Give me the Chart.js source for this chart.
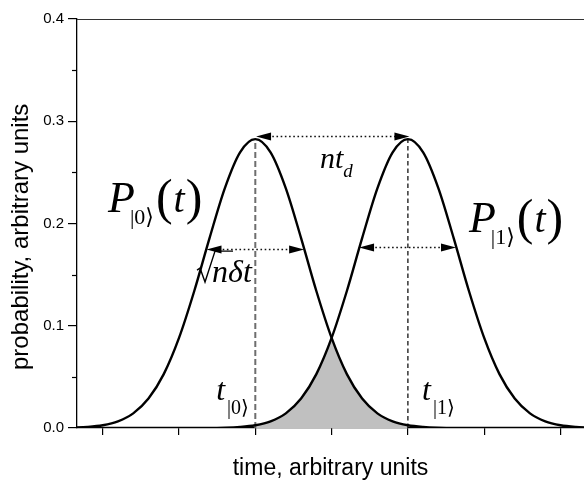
<!DOCTYPE html>
<html>
<head>
<meta charset="utf-8">
<title>Overlapping detection probabilities</title>
<script src="https://cdn.jsdelivr.net/npm/chart.js@4.4.1/dist/chart.umd.min.js"></script>
<style>
    html, body { margin: 0; padding: 0; background: #fff; }
    #wrap { width: 584px; height: 487px; }
</style>
</head>
<body>
<div id="wrap"><canvas id="chart"></canvas></div>
<script>
// time axis (arbitrary units), one sample every 0.2
const timePoints = [0.6, 0.8, 1.0, 1.2, 1.4, 1.6, 1.8, 2.0, 2.2, 2.4,
                    2.6, 2.8, 3.0, 3.2, 3.4, 3.6, 3.8, 4.0, 4.2, 4.4,
                    4.6, 4.8, 5.0, 5.2, 5.4, 5.6, 5.8, 6.0, 6.2, 6.4,
                    6.6, 6.8, 7.0, 7.2, 7.4];

// P|0>(t)
const probState0 = [0.0003, 0.0010, 0.0027, 0.0065, 0.0143, 0.0288, 0.0527, 0.0881, 0.1340, 0.1857,
                    0.2344, 0.2696, 0.2825, 0.2696, 0.2344, 0.1857, 0.1340, 0.0881, 0.0527, 0.0288,
                    0.0143, 0.0065, 0.0027, 0.0010, 0.0003, 0.0001, 0, 0, 0, 0,
                    0, 0, 0, 0, 0];

// P|1>(t)
const probState1 = [0, 0, 0, 0, 0, 0, 0, 0, 0, 0.0001,
                    0.0003, 0.0010, 0.0027, 0.0065, 0.0143, 0.0288, 0.0527, 0.0881, 0.1340, 0.1857,
                    0.2344, 0.2696, 0.2825, 0.2696, 0.2344, 0.1857, 0.1340, 0.0881, 0.0527, 0.0288,
                    0.0143, 0.0065, 0.0027, 0.0010, 0.0003];

const peakTimes = [3.0, 5.0];      // t|0>, t|1>
const peakValue = 0.2825;
const crossingTime = 4.0;
const crossingValue = 0.0881;

const yMinorTicks = [0.05, 0.15, 0.25, 0.35];

// dotted double arrows: [from, to, level]
const arrowSpans = [
    [3.01, 5.02, 0.2857],   // n t_d
    [2.36, 3.64, 0.175],    // sqrt(n) dt
    [4.36, 5.63, 0.177]
];

const serif = "'Liberation Serif', 'DejaVu Serif', serif";
const sans = "'Liberation Sans', Arial, sans-serif";

// math labels, anchored in data coordinates; runs are drawn one after another
const mathLabels = [
    { x: 1.07, y: 0.2111, runs: [
        { text: 'P', size: 44, italic: true },
        { text: '|0\u27E9', size: 22, dx: -5, dy: 12 },
        { text: '(', size: 50, dx: 2, dy: 2 },
        { text: 't', size: 40, italic: true, dx: 1 },
        { text: ')', size: 50, dx: 1, dy: 2 } ] },
    { x: 5.80, y: 0.1916, runs: [
        { text: 'P', size: 44, italic: true },
        { text: '|1\u27E9', size: 22, dx: -5, dy: 12 },
        { text: '(', size: 50, dx: 2, dy: 2 },
        { text: 't', size: 40, italic: true, dx: 1 },
        { text: ')', size: 50, dx: 1, dy: 2 } ] },
    { x: 3.847, y: 0.2542, runs: [
        { text: 'nt', size: 30, italic: true },
        { text: 'd', size: 19, italic: true, dy: 9 } ] },
    { x: 2.236, y: 0.1427, radical: true, runs: [
        { text: 'n\u03B4t', size: 32, italic: true, dx: 15 } ] },
    { x: 2.487, y: 0.0274, runs: [
        { text: 't', size: 32, italic: true },
        { text: '|0\u27E9', size: 20, dx: 2, dy: 14 } ] },
    { x: 5.185, y: 0.0274, runs: [
        { text: 't', size: 32, italic: true },
        { text: '|1\u27E9', size: 20, dx: 2, dy: 14 } ] }
];

function points(values) {
    return timePoints.map((t, i) => ({ x: t, y: values[i] }));
}

function between(values, from, to) {
    return points(values).filter(p => p.x >= from - 1e-9 && p.x <= to + 1e-9);
}

const annotate = {
    id: 'annotate',
    beforeDatasetsDraw(chart) {
        const { ctx, chartArea } = chart;
        const y = chart.scales.y;
        ctx.save();
        // frame line on top
        ctx.strokeStyle = '#333';
        ctx.lineWidth = 1;
        ctx.beginPath();
        ctx.moveTo(chartArea.left, chartArea.top + 0.5);
        ctx.lineTo(chartArea.right, chartArea.top + 0.5);
        ctx.stroke();
        // minor ticks on the y axis
        ctx.strokeStyle = '#000';
        ctx.lineWidth = 1.2;
        yMinorTicks.forEach(v => {
            const py = Math.round(y.getPixelForValue(v)) + 0.5;
            ctx.beginPath();
            ctx.moveTo(chartArea.left - 5, py);
            ctx.lineTo(chartArea.left, py);
            ctx.stroke();
        });
        ctx.restore();
    },
    afterDatasetsDraw(chart) {
        const { ctx } = chart;
        const x = chart.scales.x, y = chart.scales.y;
        ctx.save();

        function head(tipX, py, dir) {
            ctx.beginPath();
            ctx.moveTo(tipX, py);
            ctx.lineTo(tipX + dir * 15, py - 4);
            ctx.lineTo(tipX + dir * 15, py + 4);
            ctx.closePath();
            ctx.fill();
        }

        ctx.fillStyle = '#000';
        ctx.strokeStyle = '#111';
        arrowSpans.forEach(([x1, x2, v]) => {
            const p1 = x.getPixelForValue(x1);
            const p2 = x.getPixelForValue(x2);
            const py = Math.round(y.getPixelForValue(v)) + 0.5;
            ctx.setLineDash([1.6, 2.6]);
            ctx.lineWidth = 1.3;
            ctx.beginPath();
            ctx.moveTo(p1 + 12, py);
            ctx.lineTo(p2 - 12, py);
            ctx.stroke();
            ctx.setLineDash([]);
            head(p1, py, 1);
            head(p2, py, -1);
        });

        ctx.textBaseline = 'alphabetic';
        ctx.textAlign = 'left';
        mathLabels.forEach(lab => {
            let cx = x.getPixelForValue(lab.x);
            const cy = y.getPixelForValue(lab.y);
            if (lab.radical) {
                ctx.lineWidth = 1.4;
                ctx.strokeStyle = '#000';
                ctx.beginPath();
                ctx.moveTo(cx, cy - 12);
                ctx.lineTo(cx + 3, cy - 14);
                ctx.lineTo(cx + 8, cy);
                ctx.lineTo(cx + 18, cy - 31);
                ctx.lineTo(cx + 36, cy - 31);
                ctx.stroke();
            }
            lab.runs.forEach(r => {
                ctx.font = (r.italic ? 'italic ' : '') + r.size + 'px ' + serif;
                cx += r.dx || 0;
                ctx.fillText(r.text, cx, cy + (r.dy || 0));
                cx += ctx.measureText(r.text).width;
            });
        });
        ctx.restore();
    }
};

document.addEventListener('DOMContentLoaded', () => {
    const ctx = document.getElementById('chart').getContext('2d');

    new Chart(ctx, {
        type: 'line',
        data: {
            datasets: [
                {
                    label: 'overlap left',
                    data: between(probState1, peakTimes[0], crossingTime),
                    borderWidth: 0,
                    backgroundColor: '#c0c0c0',
                    fill: 'origin',
                    cubicInterpolationMode: 'monotone',
                    order: 5
                },
                {
                    label: 'overlap right',
                    data: between(probState0, crossingTime, peakTimes[1]),
                    borderWidth: 0,
                    backgroundColor: '#c0c0c0',
                    fill: 'origin',
                    cubicInterpolationMode: 'monotone',
                    order: 5
                },
                {
                    // hides the hairline where the two shaded halves meet
                    label: 'overlap seam',
                    data: [{ x: crossingTime, y: 0 }, { x: crossingTime, y: crossingValue - 0.002 }],
                    borderColor: '#c0c0c0',
                    borderWidth: 1.5,
                    fill: false,
                    order: 4
                },
                {
                    label: 't0 marker',
                    data: [{ x: peakTimes[0], y: 0 }, { x: peakTimes[0], y: peakValue }],
                    borderColor: '#6e6e6e',
                    borderWidth: 2,
                    borderDash: [6, 3],
                    fill: false,
                    order: 3
                },
                {
                    label: 't1 marker',
                    data: [{ x: peakTimes[1], y: 0 }, { x: peakTimes[1], y: peakValue }],
                    borderColor: '#000',
                    borderWidth: 1.2,
                    borderDash: [4.5, 3],
                    fill: false,
                    order: 3
                },
                {
                    label: 'P|0>(t)',
                    data: points(probState0),
                    borderColor: '#000',
                    borderWidth: 2.4,
                    fill: false,
                    cubicInterpolationMode: 'monotone',
                    order: 1
                },
                {
                    label: 'P|1>(t)',
                    data: points(probState1),
                    borderColor: '#000',
                    borderWidth: 2.4,
                    fill: false,
                    cubicInterpolationMode: 'monotone',
                    order: 1
                }
            ]
        },
        options: {
            responsive: true,
            maintainAspectRatio: false,
            animation: false,
            layout: { padding: { top: 19, right: 0, bottom: 0, left: 0 } },
            elements: { point: { radius: 0, hoverRadius: 0 } },
            plugins: {
                legend: { display: false },
                tooltip: { enabled: false }
            },
            scales: {
                x: {
                    type: 'linear',
                    min: 0.663,
                    max: 7.308,
                    afterFit: s => { s.height = 59; },
                    ticks: { display: false, stepSize: 1, includeBounds: false },
                    grid: { drawOnChartArea: false, tickLength: 7, color: '#000', lineWidth: 1.2 },
                    border: { color: '#000', width: 1.3 },
                    title: {
                        display: true,
                        text: 'time, arbitrary units',
                        color: '#000',
                        font: { family: sans, size: 23 },
                        padding: { top: 0, bottom: 5 }
                    }
                },
                y: {
                    min: 0,
                    max: 0.4,
                    afterFit: s => { s.width = 77; },
                    ticks: {
                        stepSize: 0.1,
                        padding: 4,
                        color: '#000',
                        font: { family: sans, size: 15 },
                        callback: v => v.toFixed(1)
                    },
                    grid: { drawOnChartArea: false, tickLength: 9, color: '#000', lineWidth: 1.2 },
                    border: { color: '#000', width: 1.3 },
                    title: {
                        display: true,
                        // trailing spaces move the centred title down a little, as in the original
                        text: 'probability, arbitrary units    ',
                        color: '#000',
                        font: { family: sans, size: 24 },
                        padding: { top: 7, bottom: 0 }
                    }
                }
            }
        },
        plugins: [annotate]
    });
});
</script>
</body>
</html>
